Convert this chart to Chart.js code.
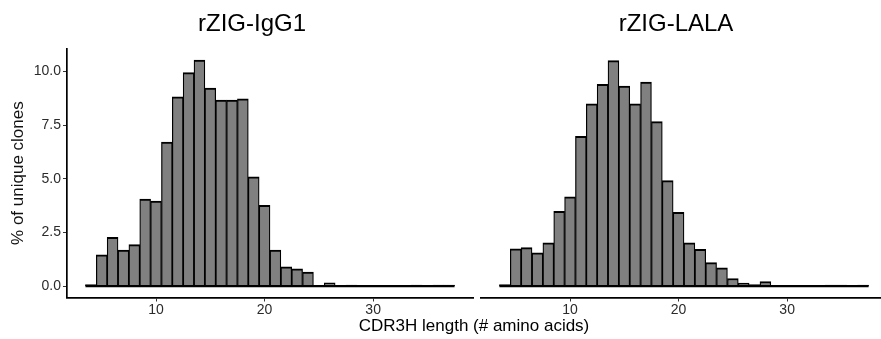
<!DOCTYPE html>
<html>
<head>
<meta charset="utf-8">
<script src="https://cdn.jsdelivr.net/npm/chart.js@4.4.1/dist/chart.umd.min.js"></script>
<style>
  html, body { margin: 0; padding: 0; background: #fff; overflow: hidden; }
  #wrap { position: relative; width: 881px; height: 339px; overflow: hidden; }
  canvas { position: absolute; left: 0; top: 0; }
</style>
</head>
<body>
<div id="wrap">
  <canvas id="igg1" width="881" height="339"></canvas>
  <canvas id="lala" width="893" height="339"></canvas>
</div>
<script>
// CDR3H length bins (one bar per length)
const cdr3Lengths = [4, 5, 6, 7, 8, 9, 10, 11, 12, 13, 14, 15, 16, 17, 18, 19, 20,
  21, 22, 23, 24, 25, 26, 27, 28, 29, 30, 31, 32, 33, 34, 35, 36, 37]

// % of unique clones per length
const igg1Percent = [0.08, 1.46, 2.28, 1.68, 1.94, 4.06, 3.97, 6.72, 8.82, 9.95, 10.54, 9.23, 8.67, 8.67, 8.73, 5.10, 3.77,
  1.68, 0.90, 0.81, 0.66, 0, 0.16, 0, 0.05, 0, 0, 0, 0, 0, 0.05, 0, 0.05, 0.05]
const lalaPercent = [0.08, 1.74, 1.80, 1.55, 2.02, 3.49, 4.16, 6.98, 8.50, 9.41, 10.51, 9.33, 8.50, 9.51, 7.67, 4.92, 3.44,
  2.02, 1.72, 1.10, 0.86, 0.36, 0.15, 0.08, 0.22, 0, 0, 0, 0, 0, 0.05, 0.05, 0, 0.05]

const xTickValues = [10, 20, 30]
const yTickValues = [0, 2.5, 5, 7.5, 10]

const panelTitles = ['rZIG-IgG1', 'rZIG-LALA']
const xAxisTitle = 'CDR3H length (# amino acids)'
const yAxisTitle = '% of unique clones'

const FONT = '"Liberation Sans", Arial, sans-serif'
Chart.defaults.font.family = FONT
Chart.defaults.color = '#2b2b2b'

// plain text labels drawn onto the canvas (facet titles, shared x title)
const textPlugin = {
    id: 'extraText',
    afterDraw(chart, args, opts) {
        const ctx = chart.ctx
        ctx.save()
        ctx.fillStyle = '#000'
        ctx.textAlign = 'center'
        ctx.textBaseline = 'middle'
        for (const item of opts.items || []) {
            ctx.font = `${item.size}px ${FONT}`
            ctx.fillText(item.text, item.x, item.y)
        }
        ctx.restore()
    }
}

function renderPanel(canvasId, values, {showY, padding, texts}) {
    const bars = cdr3Lengths.map((x, i) => ({x: x, y: values[i]}))
    const first = cdr3Lengths[0]
    const last = cdr3Lengths[cdr3Lengths.length - 1]

    const data = {
        datasets: [
            {
                type: 'bar',
                data: bars,
                backgroundColor: '#808080',
                borderColor: '#000',
                borderWidth: {top: 2, left: 1.25, right: 1.25, bottom: 0},
                borderSkipped: false,
                barPercentage: 1,
                categoryPercentage: 1,
                order: 1,
            },
            {
                // outline of the empty bins along zero
                type: 'line',
                data: [{x: first - 0.5, y: 0}, {x: last + 0.5, y: 0}],
                borderColor: '#000',
                borderWidth: 2.2,
                pointRadius: 0,
                order: 0,
            },
        ]
    }

    const yScale = {
        display: showY,
        min: -0.527,
        max: 11.067,
        afterBuildTicks: (scale) => { scale.ticks = yTickValues.map((v) => ({value: v})) },
        border: {display: true, color: '#000', width: 1.7},
        grid: {drawOnChartArea: false, drawTicks: true, tickLength: 4, color: '#333'},
        ticks: {
            font: {size: 14},
            padding: 2,
            callback: (v) => Number(v).toFixed(1),
        },
        title: {
            display: true,
            text: yAxisTitle,
            color: '#111',
            font: {size: 17},
            padding: {top: 8, bottom: 0},
        },
    }
    if (showY) {
        yScale.afterFit = (scale) => { scale.width = 67 }
    }

    const config = {
        type: 'bar',
        data: data,
        plugins: [textPlugin],
        options: {
            responsive: false,
            animation: false,
            layout: {padding: padding},
            plugins: {
                legend: {display: false},
                tooltip: {enabled: false},
                extraText: {items: texts},
            },
            scales: {
                x: {
                    type: 'linear',
                    offset: false,
                    min: 1.8,
                    max: 39.2,
                    afterFit: (scale) => { scale.height = 41.5 },
                    afterBuildTicks: (scale) => { scale.ticks = xTickValues.map((v) => ({value: v})) },
                    border: {display: true, color: '#000', width: 1.7},
                    grid: {offset: false, drawOnChartArea: false, drawTicks: true, tickLength: 4, color: '#333'},
                    ticks: {font: {size: 14}, padding: 0, maxRotation: 0},
                },
                y: yScale,
            },
        },
    }

    return new Chart(document.getElementById(canvasId), config)
}

renderPanel('igg1', igg1Percent, {
    showY: true,
    padding: {left: 0, right: 408, top: 48.7, bottom: 0},
    texts: [
        {text: panelTitles[0], x: 252, y: 24, size: 24},
        {text: xAxisTitle, x: 474, y: 326, size: 17},
    ],
})

renderPanel('lala', lalaPercent, {
    showY: false,
    padding: {left: 481, right: 6, top: 48.7, bottom: 0},
    texts: [
        {text: panelTitles[1], x: 676, y: 24, size: 24},
    ],
})
</script>
</body>
</html>
